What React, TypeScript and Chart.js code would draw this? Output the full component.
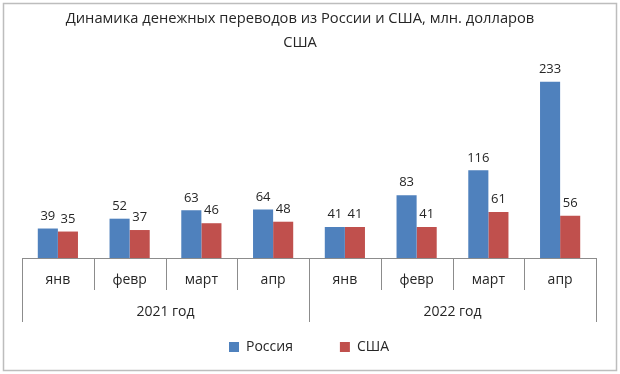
import React, { useEffect, useRef } from "react";
import { Chart, registerables } from "chart.js";

Chart.register(...registerables);

const titleLines = ["Динамика денежных переводов из России и США, млн. долларов", "США"];
const months = ["янв", "февр", "март", "апр", "янв", "февр", "март", "апр"];
const years = ["2021 год", "2022 год"];
const russia = [39, 52, 63, 64, 41, 83, 116, 233];
const usa = [35, 37, 46, 48, 41, 41, 61, 56];
const seriesNames = ["Россия", "США"];

const FONT = "'Open Sans', 'Noto Sans', sans-serif";
const TEXT = "#262626";
const LINE = "#8c8c8c";

const framePlugin = {
  id: "frame",
  beforeDraw(chart: any) {
    const { ctx, width, height } = chart;
    ctx.save();
    ctx.fillStyle = "#ffffff";
    ctx.fillRect(0, 0, width, height);
    ctx.strokeStyle = "#bdbdbd";
    ctx.lineWidth = 1.5;
    ctx.strokeRect(3.5, 3.5, width - 7, height - 7);
    ctx.fillStyle = TEXT;
    ctx.textAlign = "center";
    ctx.textBaseline = "middle";
    ctx.font = `14.7px ${FONT}`;
    titleLines.forEach((t, i) => {
      ctx.fillText(t, 300, 19 + i * 24);
    });
    ctx.restore();
  },
};

const axisPlugin = {
  id: "multiAxis",
  afterDraw(chart: any) {
    const { ctx, chartArea } = chart;
    const x = chart.scales.x;
    const n = months.length;
    const step = (chartArea.right - chartArea.left) / n;
    const bottom = chartArea.bottom;
    ctx.save();
    ctx.strokeStyle = LINE;
    ctx.lineWidth = 1;
    ctx.beginPath();
    ctx.moveTo(chartArea.left, Math.round(bottom) + 0.5);
    ctx.lineTo(chartArea.right, Math.round(bottom) + 0.5);
    for (let i = 0; i <= n; i++) {
      const px = Math.round(x.getPixelForValue(0) - step / 2 + i * step) + 0.5;
      const isYear = i % 4 === 0;
      ctx.moveTo(px, bottom);
      ctx.lineTo(px, bottom + (isYear ? 64 : 32));
    }
    ctx.stroke();
    ctx.fillStyle = TEXT;
    ctx.textAlign = "center";
    ctx.textBaseline = "middle";
    ctx.font = `14px ${FONT}`;
    months.forEach((m, i) => {
      ctx.fillText(m, x.getPixelForValue(i), bottom + 22);
    });
    years.forEach((y, j) => {
      const c = (x.getPixelForValue(j * 4) + x.getPixelForValue(j * 4 + 3)) / 2;
      ctx.fillText(y, c, bottom + 54);
    });
    ctx.restore();
  },
};

const labelPlugin = {
  id: "valueLabels",
  afterDatasetsDraw(chart: any) {
    const { ctx } = chart;
    ctx.save();
    ctx.fillStyle = TEXT;
    ctx.textAlign = "center";
    ctx.textBaseline = "bottom";
    ctx.font = `13px ${FONT}`;
    chart.data.datasets.forEach((ds: any, di: number) => {
      const meta = chart.getDatasetMeta(di);
      meta.data.forEach((bar: any, i: number) => {
        ctx.fillText(String(ds.data[i]), bar.x, bar.y - 6);
      });
    });
    ctx.restore();
  },
};

export default function App() {
  const ref = useRef<HTMLCanvasElement>(null);
  useEffect(() => {
    const chart = new Chart(ref.current!, {
      type: "bar",
      data: {
        labels: months.map((m, i) => `${m} ${years[Math.floor(i / 4)]}`),
        datasets: [
          { label: seriesNames[0], data: russia, backgroundColor: "#4f81bd", categoryPercentage: 0.56, barPercentage: 1 },
          { label: seriesNames[1], data: usa, backgroundColor: "#c0504d", categoryPercentage: 0.56, barPercentage: 1 },
        ],
      },
      options: {
        responsive: false,
        animation: false,
        layout: { padding: { top: 69, left: 22, right: 24, bottom: 10 } },
        scales: {
          x: {
            display: true,
            grid: { display: false },
            border: { display: false },
            ticks: { display: false },
            afterFit: (s: any) => { s.height = 35; },
          },
          y: { display: false, min: 0, max: 250 },
        },
        plugins: {
          title: { display: false },
          legend: {
            display: true,
            position: "bottom",
            labels: {
              boxWidth: 10,
              boxHeight: 10,
              padding: 47,
              color: TEXT,
              font: { family: FONT, size: 14 },
            },
          },
          tooltip: { enabled: false },
        },
      },
      plugins: [framePlugin, axisPlugin, labelPlugin],
    });
    return () => chart.destroy();
  }, []);
  return (
    <div style={{ position: "absolute", left: 0, top: 0, width: 620, height: 374 }}>
      <canvas ref={ref} width={620} height={374} />
    </div>
  );
}
